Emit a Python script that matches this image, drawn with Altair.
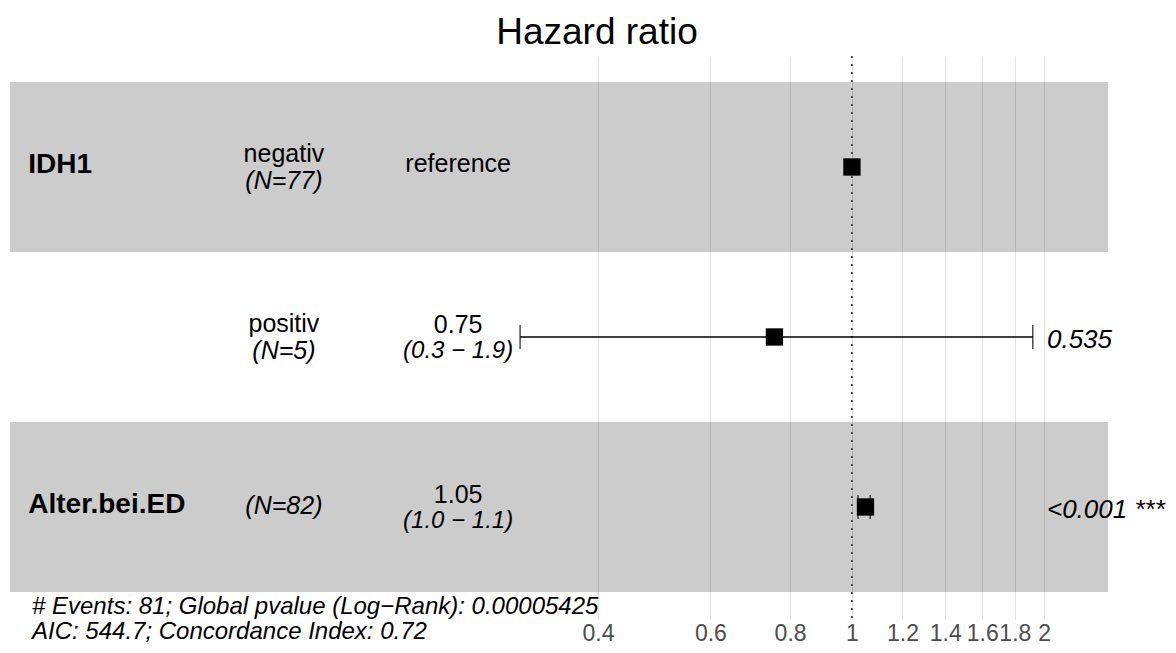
import altair as alt
import numpy as np
import pandas as pd

# ---- data ----
rows = [1, 2, 3]
variables = ["IDH1", "", "Alter.bei.ED"]
levels = ["negativ", "positiv", ""]
n_obs = [77, 5, 82]
hazard = [1.0, 0.756, 1.05]
ci_low = [np.nan, 0.302, 1.022]
ci_high = [np.nan, 1.92, 1.068]
hr_labels = ["reference", "0.75", "1.05"]
ci_labels = ["", "(0.3 − 1.9)", "(1.0 − 1.1)"]
p_labels = ["", "0.535", "<0.001 ***"]
tick_values = [0.4, 0.6, 0.8, 1, 1.2, 1.4, 1.6, 1.8, 2]
footer_lines = ["# Events: 81; Global pvalue (Log−Rank): 0.00005425",
                "AIC: 544.7; Concordance Index: 0.72"]

# ---- layout constants (HR units for text columns, like ggforest) ----
W, H = 1098, 563
X_DOMAIN = [0.04794, 2.519]
Y_DOMAIN = [0.347, 3.659]
COL_VAR = 0.0512
COL_LEVEL = 0.1288
COL_HR = 0.2415
COL_P = 2.021
COL_FOOT = 0.0519
FONT = "Liberation Sans"

df = pd.DataFrame({
    "row": rows, "var": variables, "level": levels, "n": n_obs,
    "hr": hazard, "lo": ci_low, "hi": ci_high,
    "hr_text": hr_labels, "ci_text": ci_labels, "p_text": p_labels,
})
df["n_text"] = "(N=" + df["n"].astype(str) + ")"
has_level = df["level"] != ""
has_ci = df["ci_text"] != ""
df["y_var"] = df["row"] - 0.012
df["y_level"] = df["row"] - 0.074
df["y_n"] = np.where(has_level, df["row"] + 0.08, df["row"] - 0.005)
df["y_hr"] = np.where(has_ci, df["row"] - 0.07, df["row"] - 0.018)
df["y_ci"] = df["row"] + 0.085
df["y_p"] = df["row"] + 0.018
df["c_var"] = COL_VAR
df["c_level"] = COL_LEVEL
df["c_hr"] = COL_HR
df["c_p"] = COL_P

bands = pd.DataFrame({"row": [1, 3]})
bands["y0"] = bands["row"] - 0.5
bands["y1"] = bands["row"] + 0.5

ref = pd.DataFrame({"x": [1.0]})
foot = pd.DataFrame({"text": footer_lines, "y": [3.586, 3.735], "x": [COL_FOOT, COL_FOOT]})

xscale = alt.Scale(type="log", domain=X_DOMAIN, nice=False, zero=False)
yscale = alt.Scale(domain=Y_DOMAIN, reverse=True, nice=False, zero=False)
xaxis = alt.Axis(values=tick_values, format="~g", grid=True, gridColor="#e3e3e3",
                 gridWidth=1, ticks=False, domain=False, labelFontSize=23,
                 labelColor="#4d4d4d", labelFont=FONT, labelPadding=3, title=None,
                 labelFlush=False, labelOverlap=False)


def X(field):
    return alt.X(field, type="quantitative", scale=xscale, axis=xaxis)


def Y(field):
    return alt.Y(field, type="quantitative", scale=yscale, axis=None)


band_layer = alt.Chart(bands).mark_rect(color="black", opacity=0.2).encode(
    x=alt.value(0), x2=alt.value(W), y=Y("y0"), y2="y1")

ref_layer = alt.Chart(ref).mark_rule(color="#333333", strokeWidth=1.6,
                                     strokeDash=[2, 6]).encode(
    x=X("x"), y=alt.value(0), y2=alt.value(H))

ci_df = df.dropna(subset=["lo"])
err_layer = alt.Chart(ci_df).mark_rule(color="black", strokeWidth=1.5).encode(
    x=X("lo"), x2="hi", y=Y("row"))
cap_lo = alt.Chart(ci_df).mark_tick(color="black", thickness=1.5, size=24,
                                    orient="vertical").encode(x=X("lo"), y=Y("row"))
cap_hi = alt.Chart(ci_df).mark_tick(color="black", thickness=1.5, size=24,
                                    orient="vertical").encode(x=X("hi"), y=Y("row"))
pts = alt.Chart(df).mark_square(color="black", size=300, opacity=1).encode(
    x=X("hr"), y=Y("row"))

var_txt = alt.Chart(df[df["var"] != ""]).mark_text(
    font=FONT, fontSize=28, fontWeight="bold", align="left", baseline="middle",
    color="black").encode(x=X("c_var"), y=Y("y_var"), text="var")
lvl_txt = alt.Chart(df[has_level]).mark_text(
    font=FONT, fontSize=25, align="center", baseline="middle", color="black").encode(
    x=X("c_level"), y=Y("y_level"), text="level")
n_txt = alt.Chart(df).mark_text(
    font=FONT, fontSize=25, fontStyle="italic", align="center", baseline="middle",
    color="black").encode(x=X("c_level"), y=Y("y_n"), text="n_text")
hr_txt = alt.Chart(df).mark_text(
    font=FONT, fontSize=25, align="center", baseline="middle", color="black").encode(
    x=X("c_hr"), y=Y("y_hr"), text="hr_text")
ci_txt = alt.Chart(df[has_ci]).mark_text(
    font=FONT, fontSize=24, fontStyle="italic", align="center", baseline="middle",
    color="black").encode(x=X("c_hr"), y=Y("y_ci"), text="ci_text")
p_txt = alt.Chart(df[df["p_text"] != ""]).mark_text(
    font=FONT, fontSize=26, fontStyle="italic", align="left", baseline="middle",
    color="black").encode(x=X("c_p"), y=Y("y_p"), text="p_text")
foot_txt = alt.Chart(foot).mark_text(
    font=FONT, fontSize=24, fontStyle="italic", align="left", baseline="middle",
    color="black").encode(x=X("x"), y=Y("y"), text="text")

chart = alt.layer(
    band_layer, ref_layer, err_layer, cap_lo, cap_hi, pts,
    var_txt, lvl_txt, n_txt, hr_txt, ci_txt, p_txt, foot_txt,
).properties(
    width=W, height=H,
    padding={"left": 2, "top": 48, "right": 60, "bottom": 26},
    autosize=alt.AutoSizeParams(type="none"),
    title=alt.TitleParams("Hazard ratio", font=FONT, fontSize=37, fontWeight="normal",
                          color="black", anchor="middle", dx=38, offset=3),
).configure_view(stroke=None)

chart.save("out.html", embed_options={"renderer": "svg", "actions": False})
